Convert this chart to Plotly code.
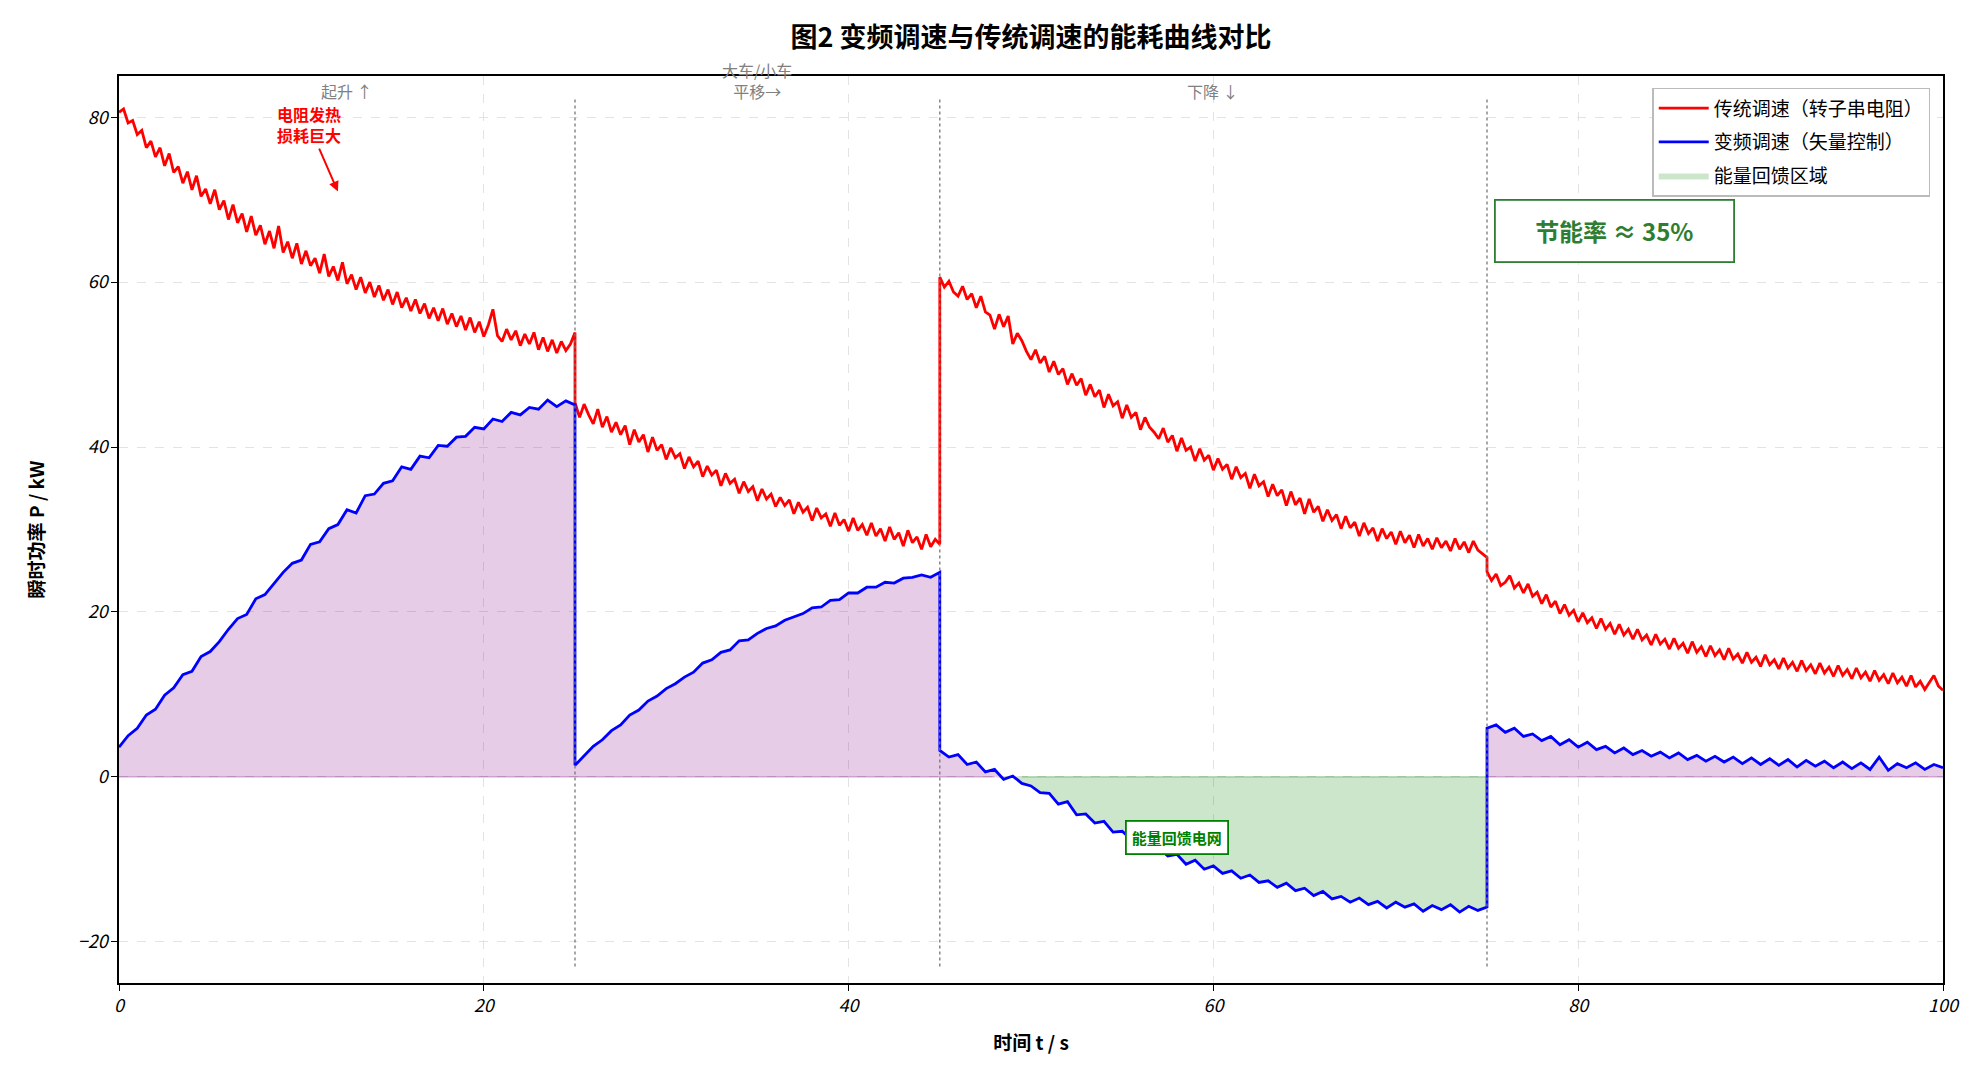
import numpy as np
import plotly.graph_objects as go

# ---------------- data ----------------
seg_bounds = [0, 25, 45, 75, 100]          # phase boundaries, s
events = [25, 45, 75]                      # phase switch instants, s

# traditional drive (rotor resistance), sampled every 0.25 s inside each phase
red_seg1 = [80.6, 81.0, 79.3, 79.6, 77.9, 78.4, 76.3, 77.1, 75.2, 76.3, 74.1, 75.6, 73.3, 74.0, 72.0, 73.4,
            71.2, 72.9, 70.4, 71.3, 69.5, 71.2, 68.8, 69.9, 67.6, 69.4, 67.2, 68.3, 66.1, 68.0, 65.7, 66.9,
            64.6, 66.2, 64.1, 66.8, 63.6, 64.9, 62.9, 64.7, 62.2, 63.8, 62.0, 62.9, 61.1, 63.4, 60.7, 61.9,
            60.2, 62.4, 59.8, 60.9, 59.1, 60.6, 58.7, 60.0, 58.2, 59.6, 57.8, 59.1, 57.3, 58.8, 56.9, 58.1,
            56.5, 57.9, 56.2, 57.4, 55.6, 56.9, 55.3, 56.8, 54.9, 56.2, 54.6, 55.9, 54.2, 55.7, 53.9, 55.2,
            53.4, 54.8, 56.7, 53.5, 52.8, 54.3, 53.0, 54.1, 52.3, 53.7, 52.5, 53.9, 51.8, 53.3, 51.6, 53.0,
            51.4, 52.8, 51.7, 52.5, 53.9]
red_seg2 = [45.4, 43.6, 45.2, 43.9, 42.8, 44.6, 42.4, 43.7, 41.8, 43.0, 41.5, 42.6, 40.3, 42.1, 40.6, 41.5,
            39.4, 41.2, 39.6, 40.3, 38.5, 39.9, 38.7, 39.2, 37.4, 38.8, 37.6, 38.3, 36.4, 37.7, 36.6, 37.2,
            35.3, 36.8, 35.6, 36.1, 34.4, 35.8, 34.6, 35.2, 33.5, 34.9, 33.7, 34.3, 32.8, 33.9, 32.9, 33.6,
            31.9, 33.3, 32.1, 32.7, 31.1, 32.6, 31.4, 31.9, 30.4, 32.0, 30.5, 31.2, 29.8, 31.4, 29.9, 30.6,
            29.3, 30.8, 29.2, 30.1, 28.6, 30.3, 28.8, 29.6, 28.0, 29.9, 28.4, 29.1, 27.6, 29.4, 27.9, 28.8,
            28.2]
red_seg3 = [60.6, 59.4, 60.1, 58.8, 58.3, 59.5, 57.9, 58.6, 56.9, 58.3, 56.4, 56.0, 54.3, 56.1, 54.6, 55.9,
            52.5, 53.8, 52.9, 51.6, 50.6, 51.8, 50.2, 51.0, 49.1, 50.4, 48.8, 49.5, 47.6, 48.9, 47.5, 48.3,
            46.3, 47.6, 46.1, 46.9, 44.8, 46.4, 45.0, 45.5, 43.5, 45.1, 43.6, 44.2, 42.1, 43.6, 42.4, 41.8,
            41.0, 42.3, 40.6, 41.4, 39.5, 41.1, 39.6, 40.0, 38.3, 39.8, 38.4, 39.0, 37.2, 38.6, 37.3, 37.9,
            36.1, 37.6, 36.3, 36.8, 35.0, 36.7, 35.3, 35.8, 34.0, 35.5, 34.1, 34.8, 32.9, 34.6, 33.0, 33.8,
            31.9, 33.7, 32.1, 32.8, 31.0, 32.4, 31.1, 31.8, 30.1, 31.6, 30.2, 30.9, 29.2, 30.8, 29.5, 30.2,
            28.6, 30.1, 28.9, 29.7, 28.2, 29.8, 28.4, 29.3, 27.8, 29.4, 28.0, 28.9, 27.6, 29.0, 27.8, 28.6,
            27.4, 28.9, 27.6, 28.5, 27.2, 28.6, 27.5, 27.1, 26.6]
red_seg4 = [24.9, 23.8, 24.6, 23.2, 23.6, 24.4, 22.9, 23.5, 22.3, 23.4, 21.9, 22.4, 21.0, 22.1, 20.6, 21.3,
            19.8, 20.9, 19.6, 20.2, 18.8, 19.9, 18.7, 19.3, 18.0, 19.2, 17.9, 18.6, 17.3, 18.5, 17.2, 17.9,
            16.7, 17.9, 16.6, 17.2, 16.0, 17.3, 16.1, 16.7, 15.5, 16.8, 15.6, 16.2, 15.0, 16.4, 15.1, 15.8,
            14.6, 15.9, 14.7, 15.4, 14.2, 15.6, 14.3, 14.9, 13.8, 15.1, 13.9, 14.5, 13.4, 14.8, 13.6, 14.2,
            13.1, 14.4, 13.2, 13.9, 12.8, 14.1, 12.9, 13.6, 12.5, 13.8, 12.6, 13.3, 12.2, 13.5, 12.3, 13.0,
            11.9, 13.2, 12.0, 12.7, 11.6, 12.9, 11.7, 12.4, 11.3, 12.6, 11.4, 12.1, 11.0, 12.3, 10.9, 11.6,
            10.6, 11.4, 12.3, 11.0, 10.5]

# variable-frequency drive (vector control), sampled every 0.5 s inside each phase
blue_seg1 = [3.6, 5.0, 5.9, 7.5, 8.2, 9.9, 10.8, 12.4, 12.8, 14.6, 15.2, 16.4, 17.9, 19.2, 19.7,
             21.6, 22.1, 23.4, 24.8, 25.9, 26.3, 28.2, 28.5, 30.1, 30.6, 32.4, 32.0, 34.1, 34.3, 35.6,
             35.9, 37.6, 37.3, 38.9, 38.7, 40.2, 40.1, 41.2, 41.3, 42.4, 42.2, 43.4, 43.1, 44.2, 43.9,
             44.8, 44.6, 45.7, 44.9, 45.6, 45.1]
blue_seg2 = [1.4, 2.6, 3.7, 4.5, 5.6, 6.3, 7.5, 8.1, 9.2, 9.8, 10.7, 11.3, 12.1, 12.7, 13.8,
             14.2, 15.1, 15.4, 16.5, 16.6, 17.4, 18.0, 18.3, 19.0, 19.4, 19.8, 20.5, 20.6, 21.4, 21.5,
             22.3, 22.3, 23.0, 23.0, 23.6, 23.5, 24.1, 24.2, 24.5, 24.2, 24.8]
blue_seg3 = [3.2, 2.4, 2.7, 1.5, 1.8, 0.6, 0.9, -0.3, 0.1, -0.8, -1.1, -1.9, -2.0, -3.3, -3.0,
             -4.6, -4.5, -5.6, -5.4, -6.7, -6.6, -7.6, -7.9, -8.8, -8.6, -9.6, -9.4, -10.6, -10.1, -11.2,
             -10.8, -11.7, -11.4, -12.3, -11.9, -12.8, -12.6, -13.4, -12.9, -13.8, -13.5, -14.4, -13.9, -14.8, -14.5,
             -15.2, -14.7, -15.5, -15.1, -15.9, -15.2, -15.8, -15.4, -16.3, -15.6, -16.1, -15.5, -16.4, -15.7, -16.2,
             -15.8]
blue_seg4 = [5.9, 6.3, 5.4, 5.9, 4.9, 5.2, 4.4, 4.9, 3.9, 4.5, 3.6, 4.2, 3.3, 3.7, 2.9,
             3.5, 2.7, 3.2, 2.5, 3.0, 2.3, 2.9, 2.1, 2.6, 1.9, 2.5, 1.8, 2.4, 1.6, 2.3,
             1.5, 2.2, 1.4, 2.1, 1.2, 2.0, 1.3, 1.9, 1.1, 1.8, 1.0, 1.7, 0.9, 2.4, 0.8,
             1.6, 1.1, 1.7, 0.9, 1.5, 1.1]

red_segs = [red_seg1, red_seg2, red_seg3, red_seg4]
blue_segs = [blue_seg1, blue_seg2, blue_seg3, blue_seg4]

phase_labels = ["起升 ↑", "大车/小车<br>平移→", "下降 ↓"]
phase_centers = [12.5, 35, 60]

name_red = "传统调速（转子串电阻）"
name_blue = "变频调速（矢量控制）"
name_regen = "能量回馈区域"
saving_text = "节能率 ≈ 35%"

# ---------------- build arrays ----------------
def seg_time(segs):
    return np.concatenate([np.linspace(seg_bounds[i], seg_bounds[i + 1], len(segs[i]))
                           for i in range(len(segs))])

t_red = seg_time(red_segs)
t_blue = seg_time(blue_segs)
red = np.concatenate(red_segs)
blue = np.concatenate(blue_segs)
blue_pos = np.clip(blue, 0, None)
blue_neg = np.clip(blue, None, 0)
edge_pos = np.where(blue >= 0, 0.0, np.nan)
edge_neg = np.where(blue <= 0, 0.0, np.nan)

FONT = "Noto Sans CJK SC"

fig = go.Figure()
fig.add_trace(go.Scatter(x=t_blue, y=blue_pos, mode="lines", fill="tozeroy",
                         fillcolor="rgba(128,0,128,0.2)", line=dict(width=0),
                         showlegend=False, hoverinfo="skip"))
fig.add_trace(go.Scatter(x=t_blue, y=blue_neg, mode="lines", fill="tozeroy",
                         fillcolor="rgba(0,128,0,0.2)", line=dict(width=0, color="rgba(0,128,0,0.3)"),
                         name=name_regen, legendrank=3, legendgroup="g3", hoverinfo="skip"))
fig.add_trace(go.Scatter(x=t_blue, y=edge_pos, mode="lines", line=dict(color="rgba(128,0,128,0.35)", width=1.2),
                         showlegend=False, hoverinfo="skip"))
fig.add_trace(go.Scatter(x=t_blue, y=edge_neg, mode="lines", line=dict(color="rgba(0,128,0,0.35)", width=1.2),
                         showlegend=False, hoverinfo="skip"))
fig.add_trace(go.Scatter(x=t_red, y=red, mode="lines", line=dict(color="#ff0000", width=2.8),
                         name=name_red, legendrank=1, legendgroup="g1"))
fig.add_trace(go.Scatter(x=t_blue, y=blue, mode="lines", line=dict(color="#0000ff", width=2.8),
                         name=name_blue, legendrank=2, legendgroup="g2"))

# event lines
for ev in events:
    fig.add_shape(type="line", xref="x", yref="y", x0=ev, x1=ev, y0=-23, y1=82.5,
                  line=dict(color="#777777", width=1.3, dash="dot"), layer="above")

annotations = []
for lab, xc in zip(phase_labels, phase_centers):
    annotations.append(dict(x=xc, y=81.5, xref="x", yref="y", text=lab, showarrow=False,
                            yanchor="bottom", font=dict(family=FONT, size=16, color="#808080")))
annotations.append(dict(x=12, y=71, xref="x", yref="y", ax=10.4, ay=79.1, axref="x", ayref="y",
                        text="<b>电阻发热<br>损耗巨大</b>", showarrow=True, arrowhead=2, arrowsize=1,
                        arrowwidth=2, arrowcolor="#ff0000",
                        font=dict(family=FONT, size=16, color="#ff0000")))
annotations.append(dict(x=58, y=-7.3, xref="x", yref="y", text="<b>能量回馈电网</b>", showarrow=False,
                        bgcolor="white", bordercolor="#008000", borderwidth=1.8, borderpad=5,
                        font=dict(family=FONT, size=15, color="#008000")))
annotations.append(dict(x=82, y=66.2, xref="x", yref="y", text="<b>" + saving_text + "</b>",
                        showarrow=False, width=215, height=38,
                        bgcolor="white", bordercolor="#2e7d32", borderwidth=1.8, borderpad=11,
                        font=dict(family=FONT, size=24, color="#2e7d32")))

fig.update_layout(
    width=1978, height=1080,
    margin=dict(l=119, r=35, t=76, b=97),
    paper_bgcolor="white", plot_bgcolor="white",
    font=dict(family=FONT, size=16, color="black"),
    title=dict(text="<b>图2 变频调速与传统调速的能耗曲线对比</b>", x=0.5, xref="paper",
               y=1 - 38 / 1080, yref="container", xanchor="center", yanchor="middle",
               font=dict(family=FONT, size=27, color="black")),
    legend=dict(x=0.993, y=0.987, xanchor="right", yanchor="top", bgcolor="white",
                bordercolor="#bbbbbb", borderwidth=1.5, font=dict(family=FONT, size=19),
                traceorder="grouped", tracegroupgap=6, itemwidth=50),
    annotations=annotations,
    showlegend=True,
)
axis_common = dict(showline=True, linecolor="black", linewidth=1.5, mirror=True,
                   ticks="outside", ticklen=6, tickwidth=1.3, tickcolor="black",
                   showgrid=True, gridcolor="#e3e3e3", griddash="dash", gridwidth=1,
                   zeroline=False,
                   tickfont=dict(family=FONT, size=18, style="italic", color="black"))
fig.update_xaxes(range=[0, 100], tickvals=[0, 20, 40, 60, 80, 100],
                 title=dict(text="<b>时间 t / s</b>", font=dict(family=FONT, size=19), standoff=20),
                 **axis_common)
fig.update_yaxes(range=[-25, 85], tickvals=[-20, 0, 20, 40, 60, 80],
                 title=dict(text="<b>瞬时功率 P / kW</b>", font=dict(family=FONT, size=19), standoff=28),
                 **axis_common)

fig.write_html("out.html")
